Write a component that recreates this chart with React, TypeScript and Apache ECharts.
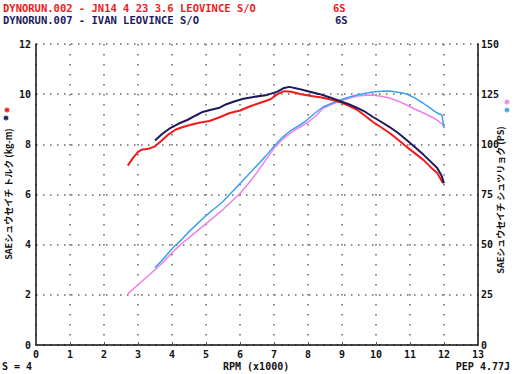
import React, { useEffect, useRef } from "react";
import * as echarts from "echarts";

const headerLines = ["DYNORUN.002 - JN14 4 23 3.6 LEOVINCE S/O", "DYNORUN.007 - IVAN LEOVINCE S/O"];
const gearLabels = ["6S", "6S"];
const leftAxisName = "SAEシュウセイチ トルク (kg-m)";
const rightAxisName = "SAEシュウセイチ シュツリョク (PS)";
const xAxisName = "RPM (x1000)";
const footLeft = "S = 4";
const footRight = "PEP 4.77J";

// [rpm x1000, kg-m]
const redTorque: number[][] = [
  [2.7, 7.15], [2.85, 7.45], [3.0, 7.7], [3.1, 7.78], [3.3, 7.82], [3.5, 7.92], [3.7, 8.15], [3.9, 8.4],
  [4.1, 8.58], [4.3, 8.68], [4.5, 8.76], [4.8, 8.86], [5.1, 8.93], [5.4, 9.08], [5.7, 9.25], [6.0, 9.35],
  [6.3, 9.52], [6.6, 9.66], [6.9, 9.8], [7.1, 10.0], [7.3, 10.12], [7.5, 10.1], [7.8, 10.0], [8.1, 9.93],
  [8.4, 9.87], [8.7, 9.78], [8.95, 9.68], [9.2, 9.53], [9.45, 9.37], [9.7, 9.12], [9.9, 8.9], [10.15, 8.68],
  [10.4, 8.45], [10.65, 8.18], [10.9, 7.9], [11.15, 7.64], [11.4, 7.37], [11.6, 7.1], [11.8, 6.86],
  [11.93, 6.55], [11.97, 6.45],
];
const navyTorque: number[][] = [
  [3.5, 8.15], [3.7, 8.4], [3.95, 8.65], [4.2, 8.83], [4.45, 8.97], [4.7, 9.15], [4.9, 9.29], [5.15, 9.38],
  [5.4, 9.46], [5.6, 9.6], [5.85, 9.72], [6.1, 9.82], [6.4, 9.89], [6.8, 9.97], [7.1, 10.1], [7.3, 10.25],
  [7.45, 10.29], [7.7, 10.22], [8.0, 10.12], [8.35, 10.0], [8.65, 9.87], [8.95, 9.72], [9.2, 9.6],
  [9.45, 9.45], [9.7, 9.28], [9.9, 9.1], [10.15, 8.9], [10.4, 8.69], [10.65, 8.45], [10.9, 8.17],
  [11.15, 7.88], [11.4, 7.58], [11.6, 7.32], [11.8, 7.06], [11.93, 6.75], [12.0, 6.45],
];
// [rpm x1000, PS]
const magentaPower: number[][] = [
  [2.7, 25.5], [2.9, 28.5], [3.1, 31.5], [3.3, 34.5], [3.5, 37.5], [3.75, 41.5], [4.0, 46], [4.25, 50],
  [4.5, 53.5], [4.75, 57], [5.0, 60.5], [5.25, 64], [5.5, 67.5], [5.75, 71.5], [6.0, 75.5], [6.25, 80.5],
  [6.5, 86], [6.75, 92], [7.0, 98], [7.25, 102.5], [7.5, 105.8], [7.75, 108.5], [8.0, 111],
  [8.25, 114.5], [8.45, 118], [8.7, 120], [8.95, 121.6], [9.2, 123], [9.45, 124.1], [9.7, 124.5],
  [9.9, 124.6], [10.15, 124], [10.4, 123.1], [10.65, 121.5], [10.9, 119.6], [11.15, 117.5], [11.4, 115.6],
  [11.6, 114], [11.8, 112.1], [11.95, 110], [12.0, 108.6],
];
const cyanPower: number[][] = [
  [3.5, 38.5], [3.75, 43], [4.0, 48], [4.25, 52], [4.5, 56.5], [4.75, 60.5], [5.0, 64.5], [5.25, 68],
  [5.5, 71.5], [5.75, 76], [6.0, 80.5], [6.25, 85], [6.5, 89.5], [6.75, 94], [7.0, 99], [7.25, 103.5],
  [7.5, 107], [7.75, 109.5], [7.97, 112.1], [8.2, 115.5], [8.44, 118.6], [8.7, 120.5],
  [8.94, 122.1], [9.2, 123.5], [9.44, 124.6], [9.7, 125.5], [9.9, 126.1], [10.15, 126.5], [10.4, 126.6],
  [10.65, 126], [10.9, 125.1], [11.15, 123], [11.38, 120.6], [11.6, 118], [11.8, 115.6], [11.94, 114.6],
  [12.0, 108.1],
];

const RED = "#f21a1a";
const NAVY = "#1c1a5a";
const MAGENTA = "#ef7fef";
const CYAN = "#3aa2ee";
const MONO = "'DejaVu Sans Mono', monospace";
const CJK = "'Noto Sans CJK JP', sans-serif";

export default function App() {
  const ref = useRef<HTMLDivElement>(null);
  useEffect(() => {
    if (!ref.current) return;
    const chart = echarts.init(ref.current, null, { renderer: "svg" });
    const tickFont = { fontFamily: MONO, fontWeight: "bold" as const, fontSize: 10, lineHeight: 9, color: "#111" };
    const r = 2.6;
    const star = (x: number, y: number, stroke: string) => ({
      type: "group", x, y,
      children: [0, 60, 120].map((deg) => {
        const a = (deg * Math.PI) / 180;
        return {
          type: "line",
          shape: { x1: -r * Math.sin(a), y1: -r * Math.cos(a), x2: r * Math.sin(a), y2: r * Math.cos(a) },
          style: { stroke, lineWidth: 1.4 },
        };
      }),
    });
    chart.setOption({
      animation: false,
      backgroundColor: "#fff",
      grid: { left: 36, right: 36, top: 44, bottom: 29, containLabel: false },
      xAxis: {
        type: "value", min: 0, max: 13, interval: 1,
        axisLine: { lineStyle: { color: "#111", width: 1.5 } },
        axisTick: { inside: true, length: 3, lineStyle: { color: "#555" } },
        axisLabel: { ...tickFont, margin: 5 },
        splitLine: { show: true, lineStyle: { color: "#666", width: 1.5, type: [1.5, 8.5] } },
      },
      yAxis: [
        {
          type: "value", min: 0, max: 12, interval: 2,
          axisLine: { show: true, lineStyle: { color: "#111", width: 1.5 } },
          axisTick: { show: false },
          axisLabel: { ...tickFont, margin: 5 },
          splitLine: { show: true, lineStyle: { color: "#666", width: 1.5, type: [1.5, 5.5] } },
        },
        {
          type: "value", min: 0, max: 150, interval: 25, position: "right",
          axisLine: { show: true, lineStyle: { color: "#111", width: 1.5 } },
          axisTick: { show: false },
          axisLabel: { ...tickFont, margin: 3 },
          splitLine: { show: false },
        },
      ],
      series: [
        { type: "line", data: magentaPower, yAxisIndex: 1, showSymbol: false, lineStyle: { color: MAGENTA, width: 1.5 }, z: 2 },
        { type: "line", data: cyanPower, yAxisIndex: 1, showSymbol: false, lineStyle: { color: CYAN, width: 1.5 }, z: 3 },
        { type: "line", data: redTorque, yAxisIndex: 0, showSymbol: false, lineStyle: { color: RED, width: 2 }, z: 4 },
        { type: "line", data: navyTorque, yAxisIndex: 0, showSymbol: false, lineStyle: { color: NAVY, width: 2 }, z: 5 },
      ],
      graphic: [
        { type: "text", left: 3, top: 2, style: { text: headerLines[0], fill: RED, font: `bold 10.5px ${MONO}` } },
        { type: "text", left: 3, top: 14, style: { text: headerLines[1], fill: NAVY, font: `bold 10.5px ${MONO}` } },
        { type: "text", left: 333, top: 2, style: { text: gearLabels[0], fill: RED, font: `bold 10.5px ${MONO}` } },
        { type: "text", left: 335, top: 14, style: { text: gearLabels[1], fill: NAVY, font: `bold 10.5px ${MONO}` } },
        { type: "text", left: 2, top: 361, style: { text: footLeft, fill: "#111", font: `bold 10px ${MONO}` } },
        { type: "text", left: 223, top: 361, style: { text: xAxisName, fill: "#111", font: `bold 10px ${MONO}` } },
        { type: "text", right: 4, top: 361, style: { text: footRight, fill: "#111", font: `bold 10px ${MONO}` } },
        {
          type: "text", x: 8, y: 194, rotation: Math.PI / 2,
          style: { text: leftAxisName, fill: "#111", font: `bold 9px ${CJK}`, align: "center", verticalAlign: "middle" },
        },
        {
          type: "text", x: 500, y: 200, rotation: Math.PI / 2,
          style: { text: rightAxisName, fill: "#111", font: `bold 9px ${CJK}`, align: "center", verticalAlign: "middle" },
        },
        star(7, 110, RED),
        star(6, 118, NAVY),
        star(507, 102, MAGENTA),
        star(507, 110, CYAN),
      ],
    });
    return () => chart.dispose();
  }, []);
  return <div ref={ref} style={{ width: 514, height: 374, position: "absolute", left: 0, top: 0 }} />;
}
